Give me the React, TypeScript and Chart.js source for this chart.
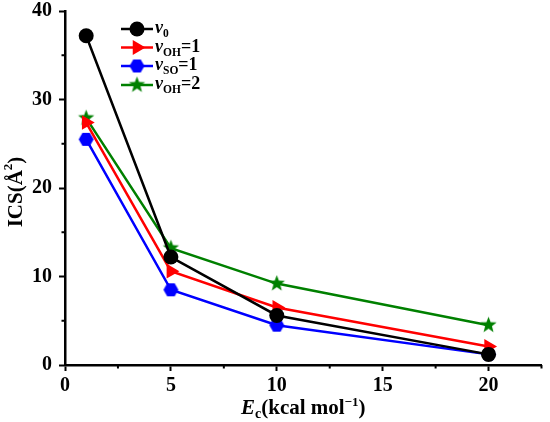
import React, { useEffect, useRef } from 'react';
import { Chart, registerables } from 'chart.js';

Chart.register(...registerables);

// collision energies (kcal/mol)
const energies = [1, 5, 10, 20];
// ICS values per vibrational state
const v0 = [37.2, 12.2, 5.6, 1.2];
const vOH1 = [27.4, 10.6, 6.5, 2.1];
const vSO1 = [25.5, 8.5, 4.5, 1.2];
const vOH2 = [27.9, 13.2, 9.2, 4.5];

const xTickValues = [0, 5, 10, 15, 20];
const xTickLabels = ['0', '5', '10', '15', '20'];
const yTickValues = [0, 10, 20, 30, 40];
const yTickLabels = ['0', '10', '20', '30', '40'];

// legend parts: [main, subscript, tail]
const legendParts: [string, string, string][] = [
  ['v', '0', ''],
  ['v', 'OH', '=1'],
  ['v', 'SO', '=1'],
  ['v', 'OH', '=2'],
];

const FONT = '"Liberation Serif", "Times New Roman", serif';

function makeShape(kind: 'hex' | 'star', color: string, r: number) {
  const c = document.createElement('canvas');
  const s = Math.ceil(r * 2 + 2);
  c.width = s;
  c.height = s;
  const ctx = c.getContext('2d')!;
  const cx = s / 2;
  const cy = s / 2;
  ctx.fillStyle = color;
  ctx.beginPath();
  if (kind === 'hex') {
    for (let i = 0; i < 6; i++) {
      const a = (Math.PI / 3) * i;
      const px = cx + r * Math.cos(a);
      const py = cy + r * Math.sin(a);
      if (i === 0) ctx.moveTo(px, py);
      else ctx.lineTo(px, py);
    }
  } else {
    for (let i = 0; i < 10; i++) {
      const rr = i % 2 === 0 ? r : r * 0.42;
      const a = -Math.PI / 2 + (Math.PI / 5) * i;
      const px = cx + rr * Math.cos(a);
      const py = cy + rr * Math.sin(a);
      if (i === 0) ctx.moveTo(px, py);
      else ctx.lineTo(px, py);
    }
  }
  ctx.closePath();
  ctx.fill();
  return c;
}

const App: React.FC = () => {
  const chartRef = useRef<HTMLCanvasElement>(null);
  const chartInstance = useRef<Chart>();

  useEffect(() => {
    document.body.style.margin = '0';
    if (!chartRef.current) return;
    const ctx = chartRef.current.getContext('2d');
    if (!ctx) return;
    if (chartInstance.current) chartInstance.current.destroy();

    const hex = makeShape('hex', '#0000ff', 7.5);
    const star = makeShape('star', '#008000', 8.5);

    const series = [
      { data: v0, color: '#000000', style: 'circle' as any, radius: 7.5, rot: 0 },
      { data: vOH1, color: '#ff0000', style: 'triangle' as any, radius: 8.5, rot: 90 },
      { data: vSO1, color: '#0000ff', style: hex as any, radius: 7.5, rot: 0 },
      { data: vOH2, color: '#008000', style: star as any, radius: 8.5, rot: 0 },
    ];

    const drawRich = (
      c: CanvasRenderingContext2D,
      parts: { t: string; size: number; style: string; dy: number }[],
      x: number,
      y: number,
      align: 'left' | 'center'
    ) => {
      let total = 0;
      parts.forEach(p => {
        c.font = `${p.style} bold ${p.size}px ${FONT}`;
        total += c.measureText(p.t).width;
      });
      let cx = align === 'center' ? x - total / 2 : x;
      parts.forEach(p => {
        c.font = `${p.style} bold ${p.size}px ${FONT}`;
        c.fillText(p.t, cx, y + p.dy);
        cx += c.measureText(p.t).width;
      });
    };

    function drawMarker(c: CanvasRenderingContext2D, s: any, x: number, y: number) {
      c.save();
      c.fillStyle = s.color;
      if (s.style === 'circle') {
        c.beginPath();
        c.arc(x, y, s.radius, 0, Math.PI * 2);
        c.fill();
      } else if (s.style === 'triangle') {
        const r = s.radius;
        c.beginPath();
        c.moveTo(x + r, y);
        c.lineTo(x - r * 0.5, y - r * 0.87);
        c.lineTo(x - r * 0.5, y + r * 0.87);
        c.closePath();
        c.fill();
      } else {
        const img = s.style as HTMLCanvasElement;
        c.drawImage(img, x - img.width / 2, y - img.height / 2);
      }
      c.restore();
    }

    const decor = {
      id: 'decor',
      afterDraw(chart: Chart) {
        const c = chart.ctx;
        const xs = chart.scales.x;
        const ys = chart.scales.y;
        const area = chart.chartArea;
        c.save();
        c.strokeStyle = '#000';
        c.fillStyle = '#000';
        c.lineWidth = 2;
        // minor ticks
        [2.5, 7.5, 12.5, 17.5, 22.5].forEach(v => {
          const px = xs.getPixelForValue(v);
          c.beginPath();
          c.moveTo(px, area.bottom);
          c.lineTo(px, area.bottom + 3.5);
          c.stroke();
        });
        [5, 15, 25, 35].forEach(v => {
          const py = ys.getPixelForValue(v);
          c.beginPath();
          c.moveTo(area.left, py);
          c.lineTo(area.left - 3.5, py);
          c.stroke();
        });

        // legend
        c.textBaseline = 'alphabetic';
        c.textAlign = 'left';
        const rows = [29, 47.5, 66, 85];
        series.forEach((s, i) => {
          const y = rows[i];
          c.strokeStyle = s.color;
          c.lineWidth = 2.5;
          c.beginPath();
          c.moveTo(121, y);
          c.lineTo(153, y);
          c.stroke();
          drawMarker(c, s, 137, y);
          c.fillStyle = '#000';
          const [m, sub, tail] = legendParts[i];
          drawRich(
            c,
            [
              { t: m, size: 18, style: 'italic', dy: 4 },
              { t: sub, size: 11.5, style: 'normal', dy: 8 },
              { t: tail, size: 18, style: 'normal', dy: 4 },
            ],
            155,
            y,
            'left'
          );
        });

        // x title
        c.fillStyle = '#000';
        drawRich(
          c,
          [
            { t: 'E', size: 21, style: 'italic', dy: 0 },
            { t: 'c', size: 14, style: 'normal', dy: 4 },
            { t: '(kcal mol', size: 21, style: 'normal', dy: 0 },
            { t: '\u2212', size: 13, style: 'normal', dy: -8 },
            { t: '1', size: 13, style: 'normal', dy: -8 },
            { t: ')', size: 21, style: 'normal', dy: 0 },
          ],
          (area.left + area.right) / 2,
          414,
          'center'
        );

        // y title
        c.translate(22, 192);
        c.rotate(-Math.PI / 2);
        drawRich(
          c,
          [
            { t: 'ICS(\u00c5', size: 21, style: 'normal', dy: 0 },
            { t: '2', size: 13, style: 'normal', dy: -10 },
            { t: ')', size: 21, style: 'normal', dy: 0 },
          ],
          0,
          0,
          'center'
        );
        c.restore();
      },
    };

    chartInstance.current = new Chart(ctx, {
      type: 'line',
      data: {
        datasets: series.map((s, i) => ({
          label: legendParts[i].join(''),
          data: s.data.map((v, j) => ({ x: energies[j], y: v })),
          borderColor: s.color,
          backgroundColor: s.color,
          borderWidth: 2.5,
          pointStyle: s.style,
          pointRadius: s.radius,
          pointRotation: s.rot,
          pointBorderWidth: 0,
          pointBackgroundColor: s.color,
          tension: 0,
        })),
      },
      options: {
        animation: false,
        responsive: false,
        events: [],
        layout: { padding: { top: 11, right: 2, left: 0, bottom: 0 } },
        plugins: {
          legend: { display: false },
          tooltip: { enabled: false },
        },
        scales: {
          x: {
            type: 'linear',
            min: 0,
            max: 22.5,
            afterBuildTicks: (scale: any) => {
              scale.ticks = xTickValues.map(v => ({ value: v }));
            },
            afterFit: (scale: any) => {
              scale.height = 57;
              scale.paddingLeft = 0;
              scale.paddingRight = 0;
            },
            ticks: {
              autoSkip: false,
              maxRotation: 0,
              padding: 3,
              color: '#000',
              font: { family: FONT, size: 20, weight: 'bold' },
              callback: (v: any) => xTickLabels[xTickValues.indexOf(Number(v))] ?? '',
            },
            grid: {
              drawOnChartArea: false,
              drawTicks: true,
              tickLength: 6,
              tickWidth: 2,
              tickColor: '#000',
            },
            border: { display: true, color: '#000', width: 2.5 },
          },
          y: {
            type: 'linear',
            min: 0,
            max: 40,
            afterBuildTicks: (scale: any) => {
              scale.ticks = yTickValues.map(v => ({ value: v }));
            },
            afterFit: (scale: any) => {
              scale.width = 65;
              scale.paddingTop = 0;
              scale.paddingBottom = 0;
            },
            ticks: {
              autoSkip: false,
              padding: 7,
              color: '#000',
              font: { family: FONT, size: 20, weight: 'bold' },
              callback: (v: any) => yTickLabels[yTickValues.indexOf(Number(v))] ?? '',
            },
            grid: {
              drawOnChartArea: false,
              drawTicks: true,
              tickLength: 6,
              tickWidth: 2,
              tickColor: '#000',
            },
            border: { display: true, color: '#000', width: 2.5 },
          },
        },
      },
      plugins: [decor],
    });

    return () => {
      if (chartInstance.current) {
        chartInstance.current.destroy();
        chartInstance.current = undefined;
      }
    };
  }, []);

  return (
    <div style={{ width: 550, height: 422, background: '#fff' }}>
      <canvas ref={chartRef} width={550} height={422} />
    </div>
  );
};

export default App;
